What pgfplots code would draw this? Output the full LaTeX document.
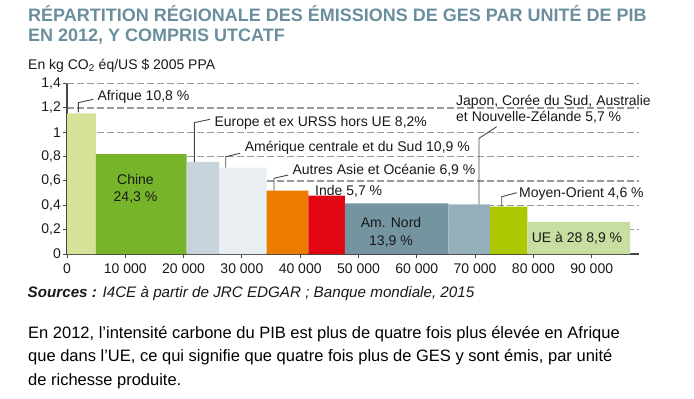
\documentclass[border=0pt]{standalone}
\usepackage{fontspec}
\setmainfont{Liberation Sans}
\usepackage{pgfplots}
\pgfplotsset{compat=1.18}
\definecolor{cTitle}{RGB}{107,142,158}
\definecolor{cAfr}{RGB}{214,226,152}
\definecolor{cChi}{RGB}{118,180,42}
\definecolor{cEur}{RGB}{200,212,219}
\definecolor{cAme}{RGB}{232,238,241}
\definecolor{cAsi}{RGB}{236,124,0}
\definecolor{cInd}{RGB}{226,6,19}
\definecolor{cAmN}{RGB}{116,148,160}
\definecolor{cJap}{RGB}{150,176,187}
\definecolor{cMoy}{RGB}{172,200,0}
\definecolor{cUE}{RGB}{200,222,160}
\definecolor{cAxis}{RGB}{70,70,70}
\begin{document}
\begin{tikzpicture}
\useasboundingbox (0,0) rectangle (694pt,-399pt);
\tikzset{lbl/.style={anchor=base west, inner sep=0pt, font=\fontsize{14}{16}\selectfont, text=black!90},
         lead/.style={draw=cAxis, line width=0.9pt}}
% titles
\node[anchor=base west, inner sep=0pt, text=cTitle, font=\fontsize{18}{20}\selectfont\bfseries] at (28pt,-21.7pt) {RÉPARTITION RÉGIONALE DES ÉMISSIONS DE GES PAR UNITÉ DE PIB};
\node[anchor=base west, inner sep=0pt, text=cTitle, font=\fontsize{18}{20}\selectfont\bfseries] at (28pt,-41.7pt) {EN 2012, Y COMPRIS UTCATF};
\node[lbl] at (28pt,-69.5pt) {En kg CO\textsubscript{2} éq/US \$ 2005 PPA};
\begin{axis}[at={(67pt,-254pt)}, anchor=south west,
  x=5.83pt, y=121.7pt,
  xmin=0, xmax=98.17, ymin=0, ymax=1.4,
  axis lines=left,
  axis line style={draw=cAxis, line width=1.2pt, -},
  xtick={0,10,20,30,40,50,60,70,80,90},
  xticklabels={0,10 000,20 000,30 000,40 000,50 000,60 000,70 000,80 000,90 000},
  ytick={0,0.2,0.4,0.6,0.8,1,1.2,1.4},
  yticklabels={0,{0,2},{0,4},{0,6},{0,8},1,{1,2},{1,4}},
  tick align=outside, major tick length=4pt,
  tick style={draw=cAxis, line width=1pt},
  /pgf/number format/assume math mode=true,
  tick label style={font=\fontsize{14}{16}\selectfont, text=black!90},
  xticklabel style={anchor=north, inner sep=0pt, yshift=-6pt},
  yticklabel style={anchor=east, inner sep=0pt, xshift=-2pt},
  ymajorgrids, grid style={draw=black!40, line width=1.1pt, dash pattern=on 7pt off 3pt},
  clip=false,
]
\addplot[fill=cAfr, draw=none] coordinates {(0,0) (0,1.156) (4.97,1.156) (4.97,0)} \closedcycle;
\addplot[fill=cChi, draw=none] coordinates {(4.97,0) (4.97,0.82) (20.53,0.82) (20.53,0)} \closedcycle;
\addplot[fill=cEur, draw=none] coordinates {(20.53,0) (20.53,0.756) (26.12,0.756) (26.12,0)} \closedcycle;
\addplot[fill=cAme, draw=none] coordinates {(26.12,0) (26.12,0.709) (34.25,0.709) (34.25,0)} \closedcycle;
\addplot[fill=cAsi, draw=none] coordinates {(34.25,0) (34.25,0.52) (41.39,0.52) (41.39,0)} \closedcycle;
\addplot[fill=cInd, draw=none] coordinates {(41.39,0) (41.39,0.48) (47.68,0.48) (47.68,0)} \closedcycle;
\addplot[fill=cAmN, draw=none] coordinates {(47.68,0) (47.68,0.417) (65.40,0.417) (65.40,0)} \closedcycle;
\addplot[fill=cJap, draw=none] coordinates {(65.40,0) (65.40,0.408) (72.56,0.408) (72.56,0)} \closedcycle;
\addplot[fill=cMoy, draw=none] coordinates {(72.56,0) (72.56,0.389) (78.95,0.389) (78.95,0)} \closedcycle;
\addplot[fill=cUE, draw=none] coordinates {(78.95,0) (78.95,0.265) (96.57,0.265) (96.57,0)} \closedcycle;
\end{axis}
% leaders
\draw[lead] (78.3pt,-112.3pt) -- (78.3pt,-102.7pt) -- (93.3pt,-99.3pt);
\draw[lead] (194.3pt,-162pt) -- (194.3pt,-122.7pt) -- (210pt,-119.3pt);
\draw[lead] (225.7pt,-167.7pt) -- (225.7pt,-156.7pt) -- (240pt,-153.3pt);
\draw[lead] (274pt,-190.7pt) -- (274pt,-178.3pt) -- (288.3pt,-175pt);
\draw[lead] (496.7pt,-126.7pt) -- (479pt,-138.3pt) -- (479pt,-204.3pt);
\draw[lead] (501.7pt,-206.7pt) -- (501.7pt,-196.7pt) -- (516.7pt,-192.7pt);
% labels
\node[lbl] at (97.3pt,-100.7pt) {Afrique 10,8 \%};
\node[lbl] at (214.3pt,-126pt) {Europe et ex URSS hors UE 8,2\%};
\node[lbl] at (244.7pt,-151pt) {Amérique centrale et du Sud 10,9 \%};
\node[lbl] at (292.3pt,-174.3pt) {Autres Asie et Océanie 6,9 \%};
\node[lbl] at (315pt,-195pt) {Inde 5,7 \%};
\node[lbl] at (456pt,-105pt) {Japon, Corée du Sud, Australie};
\node[lbl] at (456pt,-121.7pt) {et Nouvelle-Zélande 5,7 \%};
\node[lbl] at (519pt,-197.7pt) {Moyen-Orient 4,6 \%};
\node[lbl, anchor=base] at (135.5pt,-184.3pt) {Chine};
\node[lbl, anchor=base] at (135.5pt,-201pt) {24,3 \%};
\node[lbl, anchor=base] at (391pt,-227.3pt) {Am. Nord};
\node[lbl, anchor=base] at (391pt,-245pt) {13,9 \%};
\node[lbl, anchor=base] at (577pt,-242.7pt) {UE à 28 8,9 \%};
% sources
\node[lbl, font=\fontsize{15.2}{17}\selectfont\itshape] at (27.5pt,-297.5pt) {\textbf{Sources :} I4CE à partir de JRC EDGAR ; Banque mondiale, 2015};
% paragraph
\node[anchor=base west, inner sep=0pt, font=\fontsize{16.5}{18}\selectfont] at (28pt,-338pt) {En 2012, l’intensité carbone du PIB est plus de quatre fois plus élevée en Afrique};
\node[anchor=base west, inner sep=0pt, font=\fontsize{16.5}{18}\selectfont] at (28pt,-361.7pt) {que dans l’UE, ce qui signifie que quatre fois plus de GES y sont émis, par unité};
\node[anchor=base west, inner sep=0pt, font=\fontsize{16.5}{18}\selectfont] at (28pt,-385pt) {de richesse produite.};
\end{tikzpicture}
\end{document}
